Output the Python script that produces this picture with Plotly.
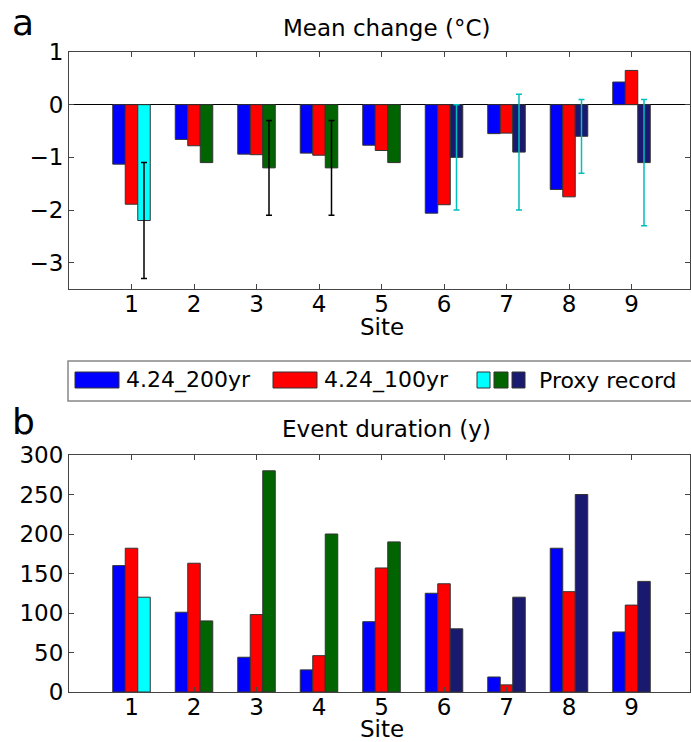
import plotly.graph_objects as go
import numpy as np

sites = [1, 2, 3, 4, 5, 6, 7, 8, 9]
tick_labels = ["1", "2", "3", "4", "5", "6", "7", "8", "9"]

# Mean change (°C)
mean_200 = [-1.13, -0.66, -0.94, -0.92, -0.77, -2.06, -0.55, -1.61, 0.43]
mean_100 = [-1.89, -0.78, -0.95, -0.96, -0.87, -1.90, -0.54, -1.75, 0.65]
mean_proxy = [-2.2, -1.1, -1.2, -1.2, -1.1, -1.0, -0.9, -0.6, -1.1]
mean_proxy_err = [1.1, None, 0.9, 0.9, None, 1.0, 1.1, 0.7, 1.2]

# Event duration (y)
dur_200 = [160, 101, 44, 28, 89, 125, 19, 182, 76]
dur_100 = [182, 163, 98, 46, 157, 137, 9, 127, 110]
dur_proxy = [120, 90, 280, 200, 190, 80, 120, 250, 140]

proxy_colors = ["#00ffff"] + ["#006400"] * 4 + ["#191970"] * 4
err_colors = ["black"] * 5 + ["#00bfbf"] * 4

names = ["4.24_200yr", "4.24_100yr", "Proxy record"]

FONT = "DejaVu Sans"
W, H = 691, 742
L, R, T, B = 69, 1, 52, 50
pw, ph = W - L - R, H - T - B


def px(x):
    return (x - L) / pw


def py(y):
    return (H - B - y) / ph


fig = go.Figure()
edge = dict(color="#333333", width=1)

for ax, (a, b, c) in [("1", (mean_200, mean_100, mean_proxy)), ("2", (dur_200, dur_100, dur_proxy))]:
    xa, ya = ("x", "y") if ax == "1" else ("x2", "y2")
    fig.add_trace(go.Bar(x=sites, y=a, width=0.2, offset=-0.3, marker=dict(color="#0000ff", line=edge),
                         name=names[0], xaxis=xa, yaxis=ya, showlegend=False))
    fig.add_trace(go.Bar(x=sites, y=b, width=0.2, offset=-0.1, marker=dict(color="#ff0000", line=edge),
                         name=names[1], xaxis=xa, yaxis=ya, showlegend=False))
    fig.add_trace(go.Bar(x=sites, y=c, width=0.2, offset=0.1, marker=dict(color=proxy_colors, line=edge),
                         name=names[2], xaxis=xa, yaxis=ya, showlegend=False))

# error bars
sx = np.array(sites) + 0.2
for col in ["black", "#00bfbf"]:
    idx = [i for i in range(9) if err_colors[i] == col and mean_proxy_err[i] is not None]
    fig.add_trace(go.Scatter(
        x=[sx[i] for i in idx], y=[mean_proxy[i] for i in idx], mode="markers",
        marker=dict(size=0.1, color="rgba(0,0,0,0)"),
        error_y=dict(type="data", array=[mean_proxy_err[i] for i in idx], color=col, thickness=1.5, width=3),
        xaxis="x", yaxis="y", showlegend=False, hoverinfo="skip"))

TS = 23
axcommon = dict(showline=True, linecolor="#444444", linewidth=1, mirror="ticks", ticks="inside",
                ticklen=5, tickcolor="#444444", showgrid=False,
                tickfont=dict(family=FONT, size=TS, color="black"))

top_dom = [py(289), 1.0]
bot_dom = [0.0, py(455)]

fig.update_layout(
    width=W, height=H, margin=dict(l=L, r=R, t=T, b=B), plot_bgcolor="white", paper_bgcolor="white",
    barmode="overlay", showlegend=False,
    xaxis=dict(axcommon, domain=[0, 1], anchor="y", range=[0, pw / 62.5], tickvals=sites, ticktext=tick_labels,
               ticklabelstandoff=-6),
    yaxis=dict(axcommon, domain=top_dom, anchor="x", range=[-3.5, 1], tickvals=[1, 0, -1, -2, -3],
               zeroline=True, zerolinecolor="black", zerolinewidth=1),
    xaxis2=dict(axcommon, domain=[0, 1], anchor="y2", range=[0, pw / 62.5], tickvals=sites, ticktext=tick_labels,
                ticklabelstandoff=-6),
    yaxis2=dict(axcommon, domain=bot_dom, anchor="x2", range=[0, 300], tickvals=[0, 50, 100, 150, 200, 250, 300],
                zeroline=False),
    font=dict(family=FONT, color="black"),
)


def label(text, x, y, size, xanchor="center"):
    return dict(text=text, x=px(x), y=py(y), xref="paper", yref="paper", showarrow=False,
                xanchor=xanchor, yanchor="middle", font=dict(family=FONT, size=size, color="black"))


ann = [
    label("a", 23, 22, 36),
    label("b", 23, 421, 36),
    label("Mean change (°C)", 386, 28, TS),
    label("Event duration (y)", 386, 429, TS),
    label("Site", 382, 327, TS),
    label("Site", 382, 729, TS),
]

shapes = []
# legend box
shapes.append(dict(type="rect", xref="paper", yref="paper", x0=px(68), x1=px(693), y0=py(401), y1=py(361),
                   line=dict(color="#888888", width=1.5), fillcolor="white", layer="below"))
ly0, ly1 = py(388), py(372)
for (x0, x1, col) in [(75, 119, "#0000ff"), (273, 317, "#ff0000"), (477, 490, "#00ffff"),
                      (494, 508, "#006400"), (512, 525, "#191970")]:
    shapes.append(dict(type="rect", xref="paper", yref="paper", x0=px(x0), x1=px(x1), y0=ly0, y1=ly1,
                       line=dict(color="#333333", width=1), fillcolor=col))
for (x, t) in [(124, names[0]), (322, names[1]), (537, names[2])]:
    ann.append(label(t, x, 380, 22, xanchor="left"))

fig.update_layout(annotations=ann, shapes=shapes)
fig.write_html("out.html")
